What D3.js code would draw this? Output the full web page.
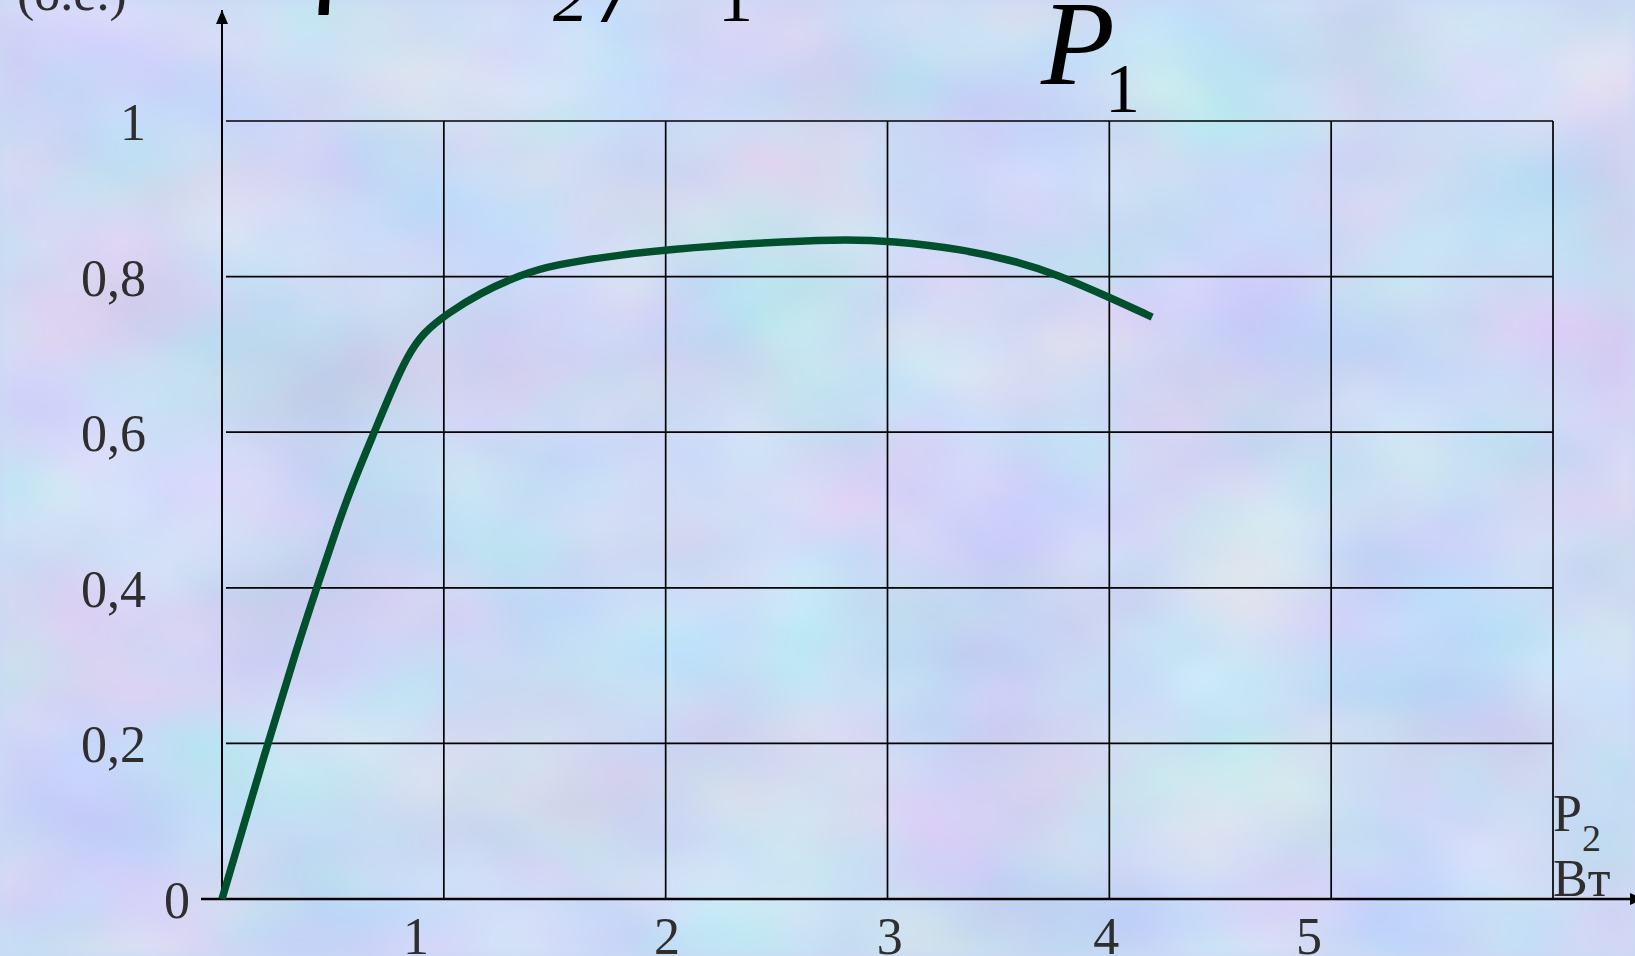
<!DOCTYPE html>
<html>
<head>
<meta charset="utf-8">
<script src="https://cdn.jsdelivr.net/npm/d3@7"></script>
<style>
  html, body { margin: 0; padding: 0; overflow: hidden; }
  text { font-family: "Liberation Serif", "Times New Roman", serif; }
</style>
</head>
<body>
<script>
const width = 1635;
const height = 956;

// efficiency curve, x in grid units (P2), y in relative units
const p2 = [0, 0.203, 0.338, 0.428, 0.518, 0.591, 0.685, 0.765, 0.834, 0.906,
  1.019, 1.163, 1.344, 1.492, 1.794, 2.020, 2.394, 2.777, 3.021, 3.345, 3.602, 3.760, 4.004, 4.193];
const eta = [0, 0.197, 0.323, 0.401, 0.478, 0.535, 0.599, 0.654, 0.697, 0.728,
  0.753, 0.779, 0.802, 0.815, 0.828, 0.835, 0.843, 0.848, 0.846, 0.835, 0.818, 0.803, 0.773, 0.748];

const gridX = [1, 2, 3, 4, 5, 6];
const gridY = [0.2, 0.4, 0.6, 0.8, 1];
const yTickLabels = ["0,2", "0,4", "0,6", "0,8", "1"];
const xTickLabels = ["1", "2", "3", "4", "5"];
const xTickAt = [0.875, 2.006, 3.01, 3.986, 4.9];

const x = d3.scaleLinear().domain([0, 6]).range([222, 1553]);
const y = d3.scaleLinear().domain([0, 1]).range([899, 121]);

const svg = d3.select("body")
  .append("svg")
  .attr("width", width)
  .attr("height", height);

// cloudy pastel background
const defs = svg.append("defs");
const filter = defs.append("filter")
  .attr("id", "clouds")
  .attr("color-interpolation-filters", "sRGB")
  .attr("x", 0).attr("y", 0).attr("width", "100%").attr("height", "100%");
filter.append("feTurbulence")
  .attr("type", "fractalNoise")
  .attr("baseFrequency", "0.0045 0.007")
  .attr("numOctaves", 3)
  .attr("seed", 7);
filter.append("feColorMatrix")
  .attr("type", "matrix")
  .attr("values", "0.26 0 0 0 0.67  0 0.18 0 0 0.765  0 0 0.10 0 0.905  0 0 0 0 1");
filter.append("feGaussianBlur").attr("stdDeviation", 6);

const marker = defs.append("marker")
  .attr("id", "arrow")
  .attr("viewBox", "0 0 14 12")
  .attr("refX", 14).attr("refY", 6)
  .attr("markerWidth", 14).attr("markerHeight", 12)
  .attr("markerUnits", "userSpaceOnUse")
  .attr("orient", "auto");
marker.append("path").attr("d", "M0,0 L14,6 L0,12 Z").attr("fill", "#000");

svg.append("rect")
  .attr("width", width).attr("height", height)
  .attr("fill", "#cbd9f5");
svg.append("rect")
  .attr("width", width).attr("height", height)
  .attr("filter", "url(#clouds)");

// grid
const grid = svg.append("g").attr("stroke", "#000").attr("stroke-width", 1.7);

grid.selectAll("line.h")
  .data(gridY)
  .join("line")
  .attr("class", "h")
  .attr("x1", x(0) + 4).attr("x2", x(6))
  .attr("y1", d => y(d)).attr("y2", d => y(d));

grid.selectAll("line.v")
  .data(gridX)
  .join("line")
  .attr("class", "v")
  .attr("x1", d => x(d)).attr("x2", d => x(d))
  .attr("y1", y(1)).attr("y2", y(0));

// axes with arrows
svg.append("line")
  .attr("x1", x(0)).attr("x2", x(0))
  .attr("y1", y(0)).attr("y2", 10)
  .attr("stroke", "#000").attr("stroke-width", 2)
  .attr("marker-end", "url(#arrow)");

svg.append("line")
  .attr("x1", x(0) - 21).attr("x2", 1644)
  .attr("y1", y(0)).attr("y2", y(0))
  .attr("stroke", "#000").attr("stroke-width", 2.4)
  .attr("marker-end", "url(#arrow)");

// curve
const line = d3.line()
  .x(d => x(d[0]))
  .y(d => y(d[1]))
  .curve(d3.curveBasis);

svg.append("path")
  .datum(d3.zip(p2, eta))
  .attr("d", line)
  .attr("fill", "none")
  .attr("stroke", "#004f2d")
  .attr("stroke-width", 7.5)
  .attr("stroke-linecap", "butt");

// tick labels
const labels = svg.append("g").attr("fill", "#2e2e2e").attr("font-size", "52px");

labels.selectAll("text.y")
  .data(gridY)
  .join("text")
  .attr("class", "y")
  .attr("x", 146)
  .attr("y", d => y(d) + 19)
  .attr("text-anchor", "end")
  .text((d, i) => yTickLabels[i]);

labels.append("text")
  .attr("x", x(0) - 45)
  .attr("y", y(0) + 19)
  .attr("text-anchor", "middle")
  .text("0");

labels.selectAll("text.x")
  .data(xTickAt)
  .join("text")
  .attr("class", "x")
  .attr("x", d => x(d))
  .attr("y", 954)
  .attr("text-anchor", "middle")
  .text((d, i) => xTickLabels[i]);

// axis titles
labels.append("text").attr("x", 17).attr("y", 10).text("(о.е.)");

const p2Label = labels.append("text").attr("x", 1553).attr("y", 831);
p2Label.append("tspan").text("P");
p2Label.append("tspan").attr("font-size", "38px").attr("dx", 0).attr("dy", 20).text("2");
labels.append("text").attr("x", 1553).attr("y", 896).text("Вт");

// formula fragments at the top (cut by the frame)
const formula = svg.append("g").attr("fill", "#000");
formula.append("text")
  .attr("x", 284).attr("y", -10)
  .attr("font-size", "118px").attr("font-style", "italic")
  .text("η");
formula.append("text")
  .attr("x", 553).attr("y", 21)
  .attr("font-size", "70px").attr("font-style", "italic")
  .text("2");
formula.append("text")
  .attr("x", 606).attr("y", 21)
  .attr("font-size", "118px").attr("font-style", "italic")
  .text("/");
formula.append("text")
  .attr("x", 718).attr("y", 21)
  .attr("font-size", "70px")
  .text("1");

formula.append("text")
  .attr("x", 1041).attr("y", 84)
  .attr("font-size", "121px").attr("font-style", "italic")
  .text("P");
formula.append("text")
  .attr("x", 1105).attr("y", 112)
  .attr("font-size", "70px")
  .text("1");
</script>
</body>
</html>
